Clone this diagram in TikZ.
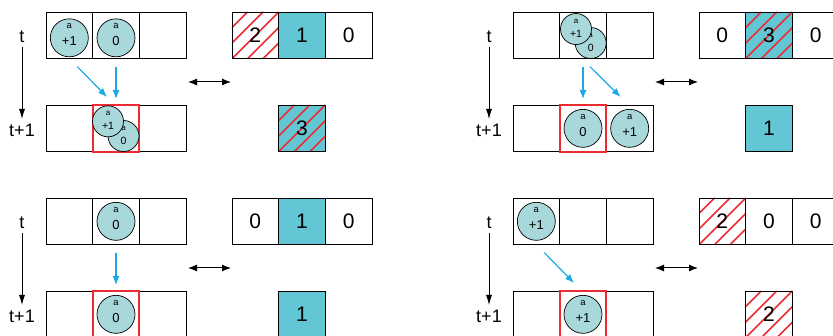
\documentclass[tikz,border=0pt]{standalone}
\usepackage{fontspec}
\setmainfont{Liberation Sans}
\usetikzlibrary{arrows.meta,calc}

\definecolor{cellteal}{HTML}{62C6D4}
\definecolor{agentfill}{HTML}{A9D8DB}
\definecolor{flowblue}{HTML}{1AA9E4}
\definecolor{hatchred}{HTML}{EC2B33}

\tikzset{
	cell/.style={draw, line width=0.8pt, minimum size=46.67pt, inner sep=0pt, outer sep=0pt,
			font=\fontsize{21}{24}\selectfont},
	filled/.style={cell, fill=cellteal},
	hatched/.style={path picture={
					\foreach \k in {-2,...,2}
					\draw[hatchred, line width=1.6pt]
					($(path picture bounding box.south west)+(\k*15.56pt,0pt)$) -- ++(46.67pt,46.67pt);
				}},
	agent/.style={circle, draw, line width=0.7pt, fill=agentfill, minimum size=38pt, inner sep=0pt,
			label={[inner sep=0pt, yshift=11.5pt, font=\fontsize{9.5}{10}\selectfont]center:a},
			label={[inner sep=0pt, yshift=-3.5pt, font=\fontsize{13}{14}\selectfont]center:#1}},
	small agent/.style={circle, draw, line width=0.7pt, fill=agentfill, minimum size=31pt, inner sep=0pt,
			label={[inner sep=0pt, yshift=7.5pt, font=\fontsize{8}{9}\selectfont]center:a},
			label={[inner sep=0pt, yshift=-4.5pt, font=\fontsize{10.5}{12}\selectfont]center:#1}},
	redbox/.style={draw=hatchred, line width=2pt, minimum size=46.67pt, inner sep=0pt},
	flow/.style={draw=flowblue, line width=1.2pt, -{Latex[length=9pt,width=7pt]}},
	timeline/.style={line width=0.9pt, -{Latex[length=10pt,width=6pt]}},
	exchange/.style={line width=1pt, {Latex[length=9pt,width=7pt]}-{Latex[length=9pt,width=7pt]}},
	timelabel/.style={anchor=base, inner sep=0pt, font=\fontsize{18}{20}\selectfont}
}

\begin{document}
\begin{tikzpicture}[x=1pt,y=-1pt]
	\useasboundingbox (0,0) rectangle (833,336);
	\clip (0,0) rectangle (833,336);

	% top left: +1 and 0 meet in one cell
	\begin{scope}[shift={(0,0)}]
		\node[timelabel] (tA) at (22,43) {t};
		\node[timelabel] (tA1) at (22,137) {t+1};
		\draw[timeline] ([yshift=-4pt]tA.base) -- ([yshift=18pt]tA1.base);

		\node[cell] (At1) at (69.33,35.33) {};
		\node[cell] (At2) at (116,35.33) {};
		\node[cell] (At3) at (162.67,35.33) {};
		\node[agent=+1] (Aa1) at (69.33,37.83) {};
		\node[agent=0] (Aa2) at (116,37.83) {};

		\node[cell] (Ab1) at (69.33,128.33) {};
		\node[cell] (Ab2) at (116,128.33) {};
		\node[cell] (Ab3) at (162.67,128.33) {};
		\node[redbox] (Ared) at (Ab2) {};
		\node[small agent=0] (Ab0) at ($(Ab2)+(7.5,7.7)$) {};
		\node[small agent=+1] (Abp) at ($(Ab2)+(-8,-7)$) {};

		\draw[flow] ([xshift=8pt,yshift=-8pt]At1.south) -- ([xshift=-9pt,yshift=8pt]Ab2.north);
		\draw[flow] ([yshift=-8pt]At2.south) -- ([yshift=6pt]Ab2.north);

		\coordinate (Al) at (188,82);
		\coordinate (Ar) at (231,82);
		\draw[exchange] (Al) -- (Ar);

		\node[cell,hatched] (Ar1) at (255.33,35.33) {2};
		\node[filled] (Ar2) at (302,35.33) {1};
		\node[cell] (Ar3) at (348.67,35.33) {0};
		\node[filled,hatched] (Ars) at (302,128.33) {3};
	\end{scope}

	% top right: the pair splits up again
	\begin{scope}[shift={(467,0)}]
		\node[timelabel] (tB) at (22,43) {t};
		\node[timelabel] (tB1) at (22,137) {t+1};
		\draw[timeline] ([yshift=-4pt]tB.base) -- ([yshift=18pt]tB1.base);

		\node[cell] (Bt1) at (69.33,35.33) {};
		\node[cell] (Bt2) at (116,35.33) {};
		\node[cell] (Bt3) at (162.67,35.33) {};
		\node[small agent=0] (Bt0) at ($(Bt2)+(7.7,7.7)$) {};
		\node[small agent=+1] (Btp) at ($(Bt2)+(-7,-6.3)$) {};

		\node[cell] (Bb1) at (69.33,128.33) {};
		\node[cell] (Bb2) at (116,128.33) {};
		\node[cell] (Bb3) at (162.67,128.33) {};
		\node[redbox] (Bred) at (Bb2) {};
		\node[agent=0] (Ba2) at (Bb2) {};
		\node[agent=+1] (Ba3) at (Bb3) {};

		\draw[flow] ([yshift=-8pt]Bt2.south) -- ([yshift=6pt]Bb2.north);
		\draw[flow] ([xshift=7pt,yshift=-8pt]Bt2.south) -- ([xshift=-9pt,yshift=8pt]Bb3.north);

		\coordinate (Bl) at (188,82);
		\coordinate (Br) at (231,82);
		\draw[exchange] (Bl) -- (Br);

		\node[cell] (Br1) at (255.33,35.33) {0};
		\node[filled,hatched] (Br2) at (302,35.33) {3};
		\node[cell] (Br3) at (348.67,35.33) {0};
		\node[filled] (Brs) at (302,128.33) {1};
	\end{scope}

	% bottom left: 0 stays
	\begin{scope}[shift={(0,186)}]
		\node[timelabel] (tC) at (22,43) {t};
		\node[timelabel] (tC1) at (22,137) {t+1};
		\draw[timeline] ([yshift=-4pt]tC.base) -- ([yshift=18pt]tC1.base);

		\node[cell] (Ct1) at (69.33,35.33) {};
		\node[cell] (Ct2) at (116,35.33) {};
		\node[cell] (Ct3) at (162.67,35.33) {};
		\node[agent=0] (Ca2) at (Ct2) {};

		\node[cell] (Cb1) at (69.33,128.33) {};
		\node[cell] (Cb2) at (116,128.33) {};
		\node[cell] (Cb3) at (162.67,128.33) {};
		\node[redbox] (Cred) at (Cb2) {};
		\node[agent=0] (Cb0) at (Cb2) {};

		\draw[flow] ([yshift=-8pt]Ct2.south) -- ([yshift=6pt]Cb2.north);

		\coordinate (Cl) at (188,82);
		\coordinate (Cr) at (231,82);
		\draw[exchange] (Cl) -- (Cr);

		\node[cell] (Cr1) at (255.33,35.33) {0};
		\node[filled] (Cr2) at (302,35.33) {1};
		\node[cell] (Cr3) at (348.67,35.33) {0};
		\node[filled] (Crs) at (302,128.33) {1};
	\end{scope}

	% bottom right: +1 moves one cell on
	\begin{scope}[shift={(467,186)}]
		\node[timelabel] (tD) at (22,43) {t};
		\node[timelabel] (tD1) at (22,137) {t+1};
		\draw[timeline] ([yshift=-4pt]tD.base) -- ([yshift=18pt]tD1.base);

		\node[cell] (Dt1) at (69.33,35.33) {};
		\node[cell] (Dt2) at (116,35.33) {};
		\node[cell] (Dt3) at (162.67,35.33) {};
		\node[agent=+1] (Da1) at (Dt1) {};

		\node[cell] (Db1) at (69.33,128.33) {};
		\node[cell] (Db2) at (116,128.33) {};
		\node[cell] (Db3) at (162.67,128.33) {};
		\node[redbox] (Dred) at (Db2) {};
		\node[agent=+1] (Dbp) at (Db2) {};

		\draw[flow] ([xshift=8pt,yshift=-8pt]Dt1.south) -- ([xshift=-9pt,yshift=8pt]Db2.north);

		\coordinate (Dl) at (188,82);
		\coordinate (Dr) at (231,82);
		\draw[exchange] (Dl) -- (Dr);

		\node[cell,hatched] (Dr1) at (255.33,35.33) {2};
		\node[cell] (Dr2) at (302,35.33) {0};
		\node[cell] (Dr3) at (348.67,35.33) {0};
		\node[cell,hatched] (Drs) at (302,128.33) {2};
	\end{scope}
\end{tikzpicture}
\end{document}
